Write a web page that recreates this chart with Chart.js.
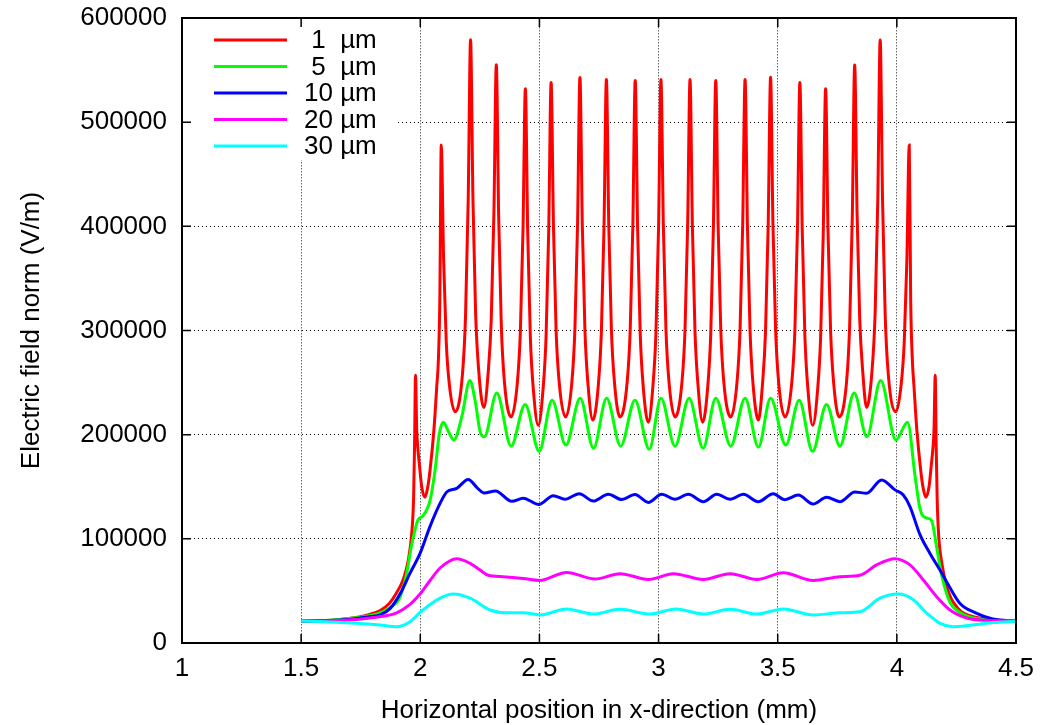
<!DOCTYPE html>
<html>
<head>
<meta charset="utf-8">
<script src="https://cdn.jsdelivr.net/npm/chart.js@4/dist/chart.umd.min.js"></script>
<style>
body { margin: 0; background: #fff; }
</style>
</head>
<body>
<canvas id="fieldChart" width="1042" height="725"></canvas>
<script>
'use strict';

// key labels and colours, same order as the series below
const seriesLabels = [' 1  µm', ' 5  µm', '10 µm', '20 µm', '30 µm'];
const seriesColors = ['#ff0000', '#00ff00', '#0000ff', '#ff00ff', '#00ffff'];

const xTicks = [1, 1.5, 2, 2.5, 3, 3.5, 4, 4.5];
const yTicks = [0, 100000, 200000, 300000, 400000, 500000, 600000];

// [x (mm), field (V/m)]
const field1um = [
	[1.50, 21000], [1.60, 21500], [1.70, 23500], [1.78, 27000], [1.83, 31000], [1.87, 38000],
	[1.90, 48000], [1.93, 62000], [1.95, 80000], [1.964, 105000], [1.972, 140000], [1.976, 190000],
	[1.980, 257000], [1.985, 205000], [1.990, 186000], [1.996, 172000], [2.006, 150000], [2.020, 140000],
	[2.030, 148000], [2.041, 166000], [2.058, 207000], [2.069, 246000], [2.076, 272000], [2.082, 330000],
	[2.088, 478000], [2.098, 367000], [2.109, 289000], [2.122, 248000], [2.146, 222000],
	[2.177, 258000], [2.190, 315000], [2.201, 424000], [2.211, 579000], [2.221, 426000], [2.232, 318000], [2.245, 262000], [2.267, 226000],
	[2.285, 260000], [2.298, 312000], [2.309, 413000], [2.319, 555000], [2.329, 409000], [2.340, 305000], [2.353, 251000], [2.381, 217000],
	[2.407, 249000], [2.420, 299000], [2.431, 396000], [2.441, 532000], [2.451, 392000], [2.462, 293000], [2.475, 242000], [2.495, 209000],
	[2.515, 243000], [2.528, 295000], [2.539, 396000], [2.549, 538000], [2.559, 399000], [2.570, 300000], [2.583, 250000], [2.610, 217000],
	[2.636, 250000], [2.649, 302000], [2.660, 402000], [2.670, 543000], [2.680, 401000], [2.691, 300000], [2.704, 248000], [2.724, 214000],
	[2.747, 247000], [2.760, 299000], [2.771, 399000], [2.781, 541000], [2.791, 401000], [2.802, 301000], [2.815, 250000], [2.838, 217000],
	[2.868, 250000], [2.881, 301000], [2.892, 400000], [2.902, 540000], [2.912, 398000], [2.923, 297000], [2.936, 245000], [2.957, 212000],
	[2.976, 246000], [2.989, 298000], [3.000, 399000], [3.010, 541000], [3.020, 401000], [3.031, 301000], [3.044, 250000], [3.069, 217000],
	[3.098, 250000], [3.111, 301000], [3.122, 401000], [3.132, 541000], [3.142, 399000], [3.153, 298000], [3.166, 246000], [3.185, 212000],
	[3.206, 245000], [3.219, 297000], [3.230, 398000], [3.240, 540000], [3.250, 400000], [3.261, 301000], [3.274, 250000], [3.303, 217000],
	[3.329, 250000], [3.342, 301000], [3.353, 401000], [3.363, 541000], [3.373, 399000], [3.384, 299000], [3.397, 247000], [3.419, 214000],
	[3.436, 248000], [3.449, 300000], [3.460, 401000], [3.470, 543000], [3.480, 402000], [3.491, 302000], [3.504, 250000], [3.531, 217000],
	[3.559, 250000], [3.572, 300000], [3.583, 399000], [3.593, 538000], [3.603, 396000], [3.614, 295000], [3.627, 243000], [3.647, 209000],
	[3.667, 242000], [3.680, 293000], [3.691, 392000], [3.701, 532000], [3.711, 396000], [3.722, 299000], [3.735, 249000], [3.758, 217000],
	[3.789, 251000], [3.802, 305000], [3.813, 409000], [3.823, 555000], [3.833, 413000], [3.844, 312000], [3.857, 260000], [3.873, 226000],
	[3.896, 262000], [3.909, 318000], [3.920, 426000], [3.930, 579000], [3.940, 424000], [3.951, 315000], [3.964, 258000], [3.996, 222000],
	[4.018, 248000], [4.031, 289000], [4.042, 367000], [4.052, 478000], [4.058, 330000], [4.065, 272000], [4.072, 246000], [4.083, 207000],
	[4.100, 166000], [4.111, 148000], [4.121, 140000], [4.135, 150000], [4.145, 172000], [4.151, 186000], [4.156, 205000],
	[4.161, 257000], [4.165, 190000], [4.169, 140000], [4.175, 105000], [4.190, 75000], [4.205, 58000], [4.225, 44000],
	[4.240, 38000], [4.270, 30000], [4.310, 26000], [4.360, 23500], [4.420, 22000], [4.500, 21000]
];

const field5um = [
	[1.50, 21000], [1.60, 21500], [1.70, 23500], [1.78, 26000], [1.831, 29000], [1.873, 34000],
	[1.915, 44000], [1.943, 67000], [1.957, 86000], [1.971, 102000], [1.990, 118000], [2.011, 122000],
	[2.041, 137000], [2.062, 166000], [2.080, 201000], [2.097, 212000], [2.118, 203000], [2.141, 195000],
	[2.174, 217000], [2.208, 252000], [2.230, 233000], [2.251, 203000], [2.269, 198000], [2.321, 240000],
	[2.381, 189000], [2.440, 229000], [2.499, 184000], [2.553, 233000], [2.611, 190000], [2.671, 235000],
	[2.727, 187000], [2.782, 235000], [2.841, 189000], [2.901, 233000], [2.961, 186000], [3.010, 235000],
	[3.069, 189000], [3.128, 235000], [3.187, 187000], [3.240, 235000], [3.303, 189000], [3.363, 235000],
	[3.419, 188000], [3.470, 235000], [3.534, 190000], [3.590, 233000], [3.646, 184000], [3.705, 229000],
	[3.761, 189000], [3.821, 240000], [3.874, 198000], [3.932, 252000], [3.996, 195000], [4.045, 212000],
	[4.076, 161000], [4.097, 129000], [4.125, 120000], [4.145, 118000], [4.167, 92000], [4.188, 65000],
	[4.223, 39000], [4.260, 30000], [4.293, 26000], [4.361, 22500], [4.430, 21500], [4.500, 21000]
];

const field10um = [
	[1.50, 21000], [1.60, 21500], [1.70, 22500], [1.78, 25000], [1.831, 27000], [1.873, 33000],
	[1.915, 47000], [1.957, 67000], [1.999, 86000], [2.041, 112000], [2.083, 134000], [2.111, 145000],
	[2.153, 148500], [2.201, 157000], [2.243, 148000], [2.268, 144000], [2.316, 146000], [2.384, 136000],
	[2.432, 139000], [2.497, 133000], [2.558, 141400], [2.607, 138000], [2.667, 143300], [2.726, 136300],
	[2.789, 142800], [2.845, 137700], [2.901, 142500], [2.957, 135000], [3.013, 142800], [3.069, 138000],
	[3.125, 142800], [3.188, 135600], [3.244, 142800], [3.300, 138000], [3.356, 142800], [3.418, 135600],
	[3.481, 143300], [3.530, 137600], [3.586, 142000], [3.649, 133400], [3.705, 140000], [3.761, 135600],
	[3.824, 145000], [3.873, 143700], [3.936, 156500], [3.992, 147000], [4.027, 142000], [4.055, 131000],
	[4.097, 104000], [4.139, 86000], [4.181, 70000], [4.223, 53000], [4.265, 38000], [4.335, 28500],
	[4.403, 23000], [4.500, 21000]
];

const field20um = [
	[1.50, 21000], [1.60, 21300], [1.70, 22000], [1.803, 24500], [1.901, 29000], [1.957, 37000],
	[1.995, 46000], [2.041, 60000], [2.083, 72000], [2.153, 81000], [2.209, 76500], [2.251, 70000],
	[2.285, 65000], [2.349, 63700], [2.432, 62000], [2.500, 60000], [2.614, 67800], [2.733, 61400],
	[2.838, 66600], [2.957, 61000], [3.062, 66600], [3.188, 61000], [3.300, 66600], [3.412, 61000],
	[3.524, 67500], [3.649, 60000], [3.761, 63700], [3.845, 65000], [3.915, 75000], [3.992, 81000],
	[4.055, 75000], [4.111, 60500], [4.167, 44400], [4.223, 31700], [4.293, 24000], [4.377, 21800],
	[4.500, 21300]
];

const field30um = [
	[1.50, 21000], [1.60, 20500], [1.733, 19000], [1.831, 17300], [1.901, 15700], [1.957, 20500],
	[2.005, 30500], [2.083, 43000], [2.139, 47000], [2.209, 43000], [2.293, 31700], [2.363, 29000],
	[2.432, 29000], [2.502, 27000], [2.614, 32600], [2.726, 27800], [2.838, 32300], [2.964, 27800],
	[3.073, 32600], [3.188, 27800], [3.300, 32300], [3.412, 27800], [3.524, 32600], [3.649, 26900],
	[3.761, 29000], [3.845, 30000], [3.929, 43000], [4.006, 47000], [4.069, 41600], [4.125, 28800],
	[4.181, 18900], [4.237, 15700], [4.307, 17000], [4.405, 19600], [4.500, 20800]
];

const allSeries = [field1um, field5um, field10um, field20um, field30um];

const fontFamily = '"Liberation Sans", Arial, Helvetica, sans-serif';
const tickFont = { family: fontFamily, size: 26 };

// frame, inward ticks and the key, drawn the gnuplot way
const framePlugin = {
	id: 'frame',
	beforeDatasetsDraw(chart) {
		const a = chart.chartArea;
		const ctx = chart.ctx;
		// white box behind the key hides the grid there
		ctx.save();
		ctx.fillStyle = '#fff';
		ctx.fillRect(a.left + 1, a.top + 1, 215, 141);
		ctx.restore();
	},
	afterDatasetsDraw(chart) {
		const a = chart.chartArea;
		const ctx = chart.ctx;
		const sx = chart.scales.x;
		const sy = chart.scales.y;

		ctx.save();
		ctx.strokeStyle = '#000';
		ctx.lineWidth = 1.5;
		ctx.beginPath();
		sx.ticks.forEach(t => {
			const px = sx.getPixelForValue(t.value);
			ctx.moveTo(px, a.bottom);
			ctx.lineTo(px, a.bottom - 9);
			ctx.moveTo(px, a.top);
			ctx.lineTo(px, a.top + 9);
		});
		sy.ticks.forEach(t => {
			const py = sy.getPixelForValue(t.value);
			ctx.moveTo(a.left, py);
			ctx.lineTo(a.left + 9, py);
			ctx.moveTo(a.right, py);
			ctx.lineTo(a.right - 9, py);
		});
		ctx.stroke();

		ctx.lineWidth = 2;
		ctx.strokeRect(a.left, a.top, a.right - a.left, a.bottom - a.top);

		// key
		ctx.font = '26px ' + fontFamily;
		ctx.textBaseline = 'middle';
		ctx.textAlign = 'left';
		chart.data.datasets.forEach((ds, i) => {
			const cy = a.top + 22 + i * 26.5;
			ctx.strokeStyle = ds.borderColor;
			ctx.lineWidth = 3;
			ctx.beginPath();
			ctx.moveTo(a.left + 32, cy);
			ctx.lineTo(a.left + 105, cy);
			ctx.stroke();
			ctx.fillStyle = '#000';
			ctx.fillText(ds.label, a.left + 122, cy + 1);
		});
		ctx.restore();
	}
};

const datasets = allSeries.map((points, i) => ({
	label: seriesLabels[i],
	data: points.map(p => ({ x: p[0], y: p[1] })),
	borderColor: seriesColors[i],
	backgroundColor: seriesColors[i],
	borderWidth: 3,
	pointRadius: 0,
	fill: false,
	cubicInterpolationMode: 'monotone',
	tension: 0.4,
	order: seriesLabels.length - i
}));

new Chart(document.getElementById('fieldChart'), {
	type: 'line',
	data: { datasets: datasets },
	options: {
		responsive: false,
		animation: false,
		events: [],
		layout: { padding: { left: 0, top: 18, right: 26, bottom: 0 } },
		plugins: {
			legend: { display: false },
			tooltip: { enabled: false }
		},
		scales: {
			x: {
				type: 'linear',
				min: 1,
				max: 4.5,
				afterBuildTicks: scale => { scale.ticks = xTicks.map(v => ({ value: v })); },
				afterFit: scale => {
					scale.height = 82;
					scale.paddingLeft = 0;
					scale.paddingRight = 0;
				},
				ticks: {
					color: '#000',
					font: tickFont,
					padding: 10,
					maxRotation: 0,
					autoSkip: false,
					callback: v => String(v)
				},
				grid: { color: '#666', lineWidth: 1, drawTicks: false },
				border: { display: false, dash: [1.5, 1.5] },
				title: {
					display: true,
					text: 'Horizontal position in x-direction (mm)',
					color: '#000',
					font: { family: fontFamily, size: 26, lineHeight: 1.1 },
					padding: { top: 0, bottom: 0 }
				}
			},
			y: {
				min: 0,
				max: 600000,
				afterBuildTicks: scale => { scale.ticks = yTicks.map(v => ({ value: v })); },
				afterFit: scale => {
					scale.width = 182;
					scale.paddingTop = 0;
					scale.paddingBottom = 0;
				},
				ticks: {
					color: '#000',
					font: tickFont,
					padding: 15,
					callback: v => String(v)
				},
				grid: { color: '#000', lineWidth: 1, drawTicks: false },
				border: { display: false, dash: [1, 3] },
				title: {
					display: true,
					text: 'Electric field norm (V/m)',
					color: '#000',
					font: { family: fontFamily, size: 26, lineHeight: 1.2 },
					padding: { top: 16, bottom: 0 }
				}
			}
		}
	},
	plugins: [framePlugin]
});
</script>
</body>
</html>
